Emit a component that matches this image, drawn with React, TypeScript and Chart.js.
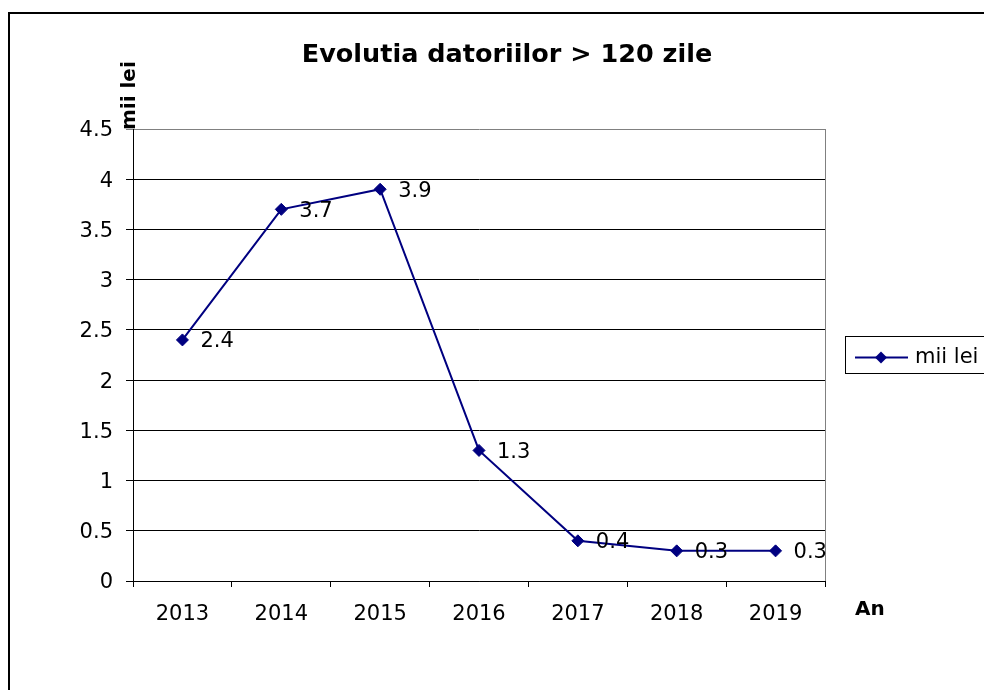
import { useEffect, useRef } from 'react';
import { Chart, registerables } from 'chart.js';

Chart.register(...registerables);

const years = ['2013', '2014', '2015', '2016', '2017', '2018', '2019'];
const values = [2.4, 3.7, 3.9, 1.3, 0.4, 0.3, 0.3];
const seriesLabel = 'mii lei';
const titleText = 'Evolutia datoriilor > 120 zile';
const yTitleText = 'mii lei';
const xTitleText = 'An';
const yMin = 0;
const yMax = 4.5;
const yStep = 0.5;

const FONT = '"DejaVu Sans", Arial, sans-serif';
const NAVY = '#000080';

const decorPlugin = {
  id: 'decor',
  beforeDraw(chart: any) {
    const ctx = chart.ctx;
    ctx.save();
    ctx.fillStyle = '#ffffff';
    ctx.fillRect(0, 0, chart.width, chart.height);
    ctx.strokeStyle = '#000000';
    ctx.lineWidth = 2;
    ctx.strokeRect(9, 13, 1200, 900);
    ctx.restore();
  },
  beforeDatasetsDraw(chart: any) {
    const ctx = chart.ctx;
    const a = chart.chartArea;
    ctx.save();
    ctx.strokeStyle = '#808080';
    ctx.lineWidth = 1;
    ctx.beginPath();
    ctx.moveTo(Math.round(a.right) + 0.5, a.top);
    ctx.lineTo(Math.round(a.right) + 0.5, a.bottom);
    ctx.stroke();
    ctx.restore();
  },
  afterDatasetsDraw(chart: any) {
    const ctx = chart.ctx;
    const meta = chart.getDatasetMeta(0);
    ctx.save();
    ctx.font = `21px ${FONT}`;
    ctx.fillStyle = '#000000';
    ctx.textAlign = 'left';
    ctx.textBaseline = 'alphabetic';
    meta.data.forEach((pt: any, i: number) => {
      ctx.fillText(String(values[i]), pt.x + 18, pt.y + 7.5);
    });
    ctx.restore();
  },
  afterDraw(chart: any) {
    const ctx = chart.ctx;
    // Title
    ctx.save();
    ctx.fillStyle = '#000000';
    ctx.font = `bold 25.5px ${FONT}`;
    ctx.textAlign = 'center';
    ctx.textBaseline = 'alphabetic';
    ctx.fillText(titleText, 507, 62);
    ctx.restore();

    // Y axis title
    ctx.save();
    ctx.fillStyle = '#000000';
    ctx.font = `bold 20px ${FONT}`;
    ctx.translate(135, 130);
    ctx.rotate(-Math.PI / 2);
    ctx.textAlign = 'left';
    ctx.textBaseline = 'alphabetic';
    ctx.fillText(yTitleText, 0, 0);
    ctx.restore();

    // X axis title
    ctx.save();
    ctx.fillStyle = '#000000';
    ctx.font = `bold 20px ${FONT}`;
    ctx.textAlign = 'left';
    ctx.textBaseline = 'alphabetic';
    ctx.fillText(xTitleText, 855, 615);
    ctx.restore();

    // Legend
    ctx.save();
    ctx.strokeStyle = '#000000';
    ctx.lineWidth = 1;
    ctx.strokeRect(845.5, 336.5, 200, 37);
    ctx.strokeStyle = NAVY;
    ctx.lineWidth = 2;
    ctx.beginPath();
    ctx.moveTo(855, 357.5);
    ctx.lineTo(908, 357.5);
    ctx.stroke();
    ctx.fillStyle = NAVY;
    ctx.beginPath();
    ctx.moveTo(881, 351.5);
    ctx.lineTo(887, 357.5);
    ctx.lineTo(881, 363.5);
    ctx.lineTo(875, 357.5);
    ctx.closePath();
    ctx.fill();
    ctx.fillStyle = '#000000';
    ctx.font = `21px ${FONT}`;
    ctx.textAlign = 'left';
    ctx.textBaseline = 'alphabetic';
    ctx.fillText(seriesLabel, 915, 363);
    ctx.restore();
  },
};

export default function App() {
  const canvasRef = useRef<HTMLCanvasElement | null>(null);

  useEffect(() => {
    const canvas = canvasRef.current;
    if (!canvas) return;
    const chart = new Chart(canvas, {
      type: 'line',
      data: {
        labels: years,
        datasets: [
          {
            label: seriesLabel,
            data: values,
            borderColor: NAVY,
            backgroundColor: NAVY,
            borderWidth: 2,
            pointStyle: 'rectRot',
            pointRadius: 6,
            pointBorderWidth: 1,
            pointBackgroundColor: NAVY,
            pointBorderColor: NAVY,
            tension: 0,
            fill: false,
          },
        ],
      },
      options: {
        responsive: false,
        animation: false,
        events: [],
        layout: { padding: { top: 129, left: 0, right: 159, bottom: 0 } },
        plugins: {
          legend: { display: false },
          title: { display: false },
          tooltip: { enabled: false },
        },
        scales: {
          x: {
            type: 'category',
            offset: true,
            grid: {
              offset: true,
              drawOnChartArea: false,
              drawTicks: true,
              tickLength: 6,
              color: '#000000',
              lineWidth: 1,
            },
            border: { display: true, color: '#000000', width: 1 },
            ticks: {
              color: '#000000',
              font: { family: FONT, size: 21 },
              padding: 15,
              maxRotation: 0,
              autoSkip: false,
            },
            afterFit(scale: any) {
              scale.height = 109;
            },
          },
          y: {
            type: 'linear',
            min: yMin,
            max: yMax,
            ticks: {
              stepSize: yStep,
              color: '#000000',
              font: { family: FONT, size: 21, lineHeight: '4px' },
              padding: 13,
              callback: (v: any) => ['', String(v)],
            },
            grid: {
              drawTicks: true,
              tickLength: 7,
              lineWidth: 1,
              color: (c: any) => (c.tick && c.tick.value === yMax ? '#808080' : '#000000'),
            },
            border: { display: true, color: '#000000', width: 1 },
            afterFit(scale: any) {
              scale.width = 133;
            },
          },
        },
      },
      plugins: [decorPlugin],
    } as any);
    return () => chart.destroy();
  }, []);

  return (
    <canvas
      ref={canvasRef}
      width={984}
      height={690}
      style={{ position: 'fixed', left: 0, top: 0, width: 984, height: 690 }}
    />
  );
}
